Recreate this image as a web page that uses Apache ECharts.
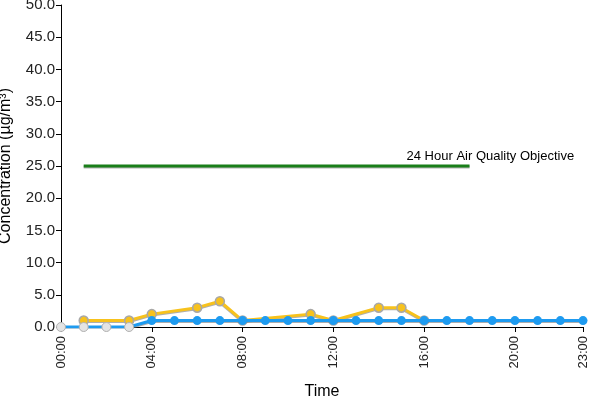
<!DOCTYPE html>
<html><head><meta charset="utf-8">
<script src="https://cdn.jsdelivr.net/npm/echarts@6/dist/echarts.min.js"></script>
<style>html,body{margin:0;padding:0;background:#fff}#c{width:600px;height:400px}</style>
</head><body><div id="c"></div>
<script>
var hours = ['00:00','01:00','02:00','03:00','04:00','05:00','06:00','07:00','08:00','09:00','10:00','11:00','12:00','13:00','14:00','15:00','16:00','17:00','18:00','19:00','20:00','21:00','22:00','23:00'];
var yellowValues = [null,1,null,1,2,null,3,4,1,null,null,2,1,null,3,3,1,null,null,null,null,null,null,null];
var blueValues = [0,0,0,0,1,1,1,1,1,1,1,1,1,1,1,1,1,1,1,1,1,1,1,1];
var objectiveValues = [null,25,25,25,25,25,25,25,25,25,25,25,25,25,25,25,25,25,25,null,null,null,null,null];
var objectiveLabel = '24 Hour Air Quality Objective';
var yTicks = {min:0, max:50, interval:5};

var chart = echarts.init(document.getElementById('c'));
var font = 'Liberation Sans, Arial, sans-serif';
function showIdx(i){ return i % 4 === 0 || i === 23; }
var blueData = blueValues.map(function(v,i){
  if (i < 4) return {value:v, itemStyle:{color:'#e4e4e4', borderColor:'#b0b0b0', borderWidth:1}};
  return v;
});
chart.setOption({
  animation:false,
  grid:{left:61, right:17, top:5, bottom:73, containLabel:false, outerBoundsMode:'none'},
  xAxis:{
    type:'category', data:hours, boundaryGap:false,
    name:'Time', nameLocation:'middle', nameGap:57,
    nameTextStyle:{fontFamily:font, fontSize:16, color:'#000'},
    axisLine:{lineStyle:{color:'#000', width:1}},
    axisTick:{interval:function(i){return showIdx(i);}, length:5, lineStyle:{color:'#000'}},
    axisLabel:{interval:function(i){return showIdx(i);}, rotate:90, fontFamily:font, fontSize:13, color:'#222', margin:9},
    splitLine:{show:false}
  },
  yAxis:{
    type:'value', min:yTicks.min, max:yTicks.max, interval:yTicks.interval,
    name:'Concentration (µg/m³)', nameLocation:'middle', nameGap:47,
    nameTextStyle:{fontFamily:font, fontSize:16, color:'#000'},
    axisLine:{show:true, lineStyle:{color:'#000', width:1}},
    axisTick:{show:true, length:5, lineStyle:{color:'#000'}},
    axisLabel:{formatter:function(v){return v.toFixed(1);}, fontFamily:font, fontSize:15, color:'#222', margin:6},
    splitLine:{show:false}
  },
  series:[
    {type:'line', data:objectiveValues, symbol:'none', z:1,
     lineStyle:{color:'#1a7f1a', width:3, shadowColor:'rgba(0,0,0,0.3)', shadowOffsetY:1},
     markPoint:{symbol:'rect', symbolSize:0, data:[{coord:[18,25], value:objectiveLabel}],
       label:{show:true, formatter:objectiveLabel, position:'inside', align:'left', verticalAlign:'middle', offset:[-63,-10], fontFamily:font, fontSize:13, color:'#000'}}
    },
    {type:'line', data:yellowValues, connectNulls:true, symbol:'circle', symbolSize:9, z:3,
     lineStyle:{color:'#f7c21d', width:3, shadowColor:'rgba(120,120,120,0.6)', shadowOffsetY:1},
     itemStyle:{color:'#f7c21d', borderColor:'#a8a8a8', borderWidth:1.5}},
    {type:'line', data:blueData, symbol:'circle', symbolSize:9, z:4,
     lineStyle:{color:'#1e9bf0', width:3, shadowColor:'rgba(120,120,120,0.6)', shadowOffsetY:1},
     itemStyle:{color:'#1e9bf0', borderWidth:0}}
  ]
});
</script></body></html>
